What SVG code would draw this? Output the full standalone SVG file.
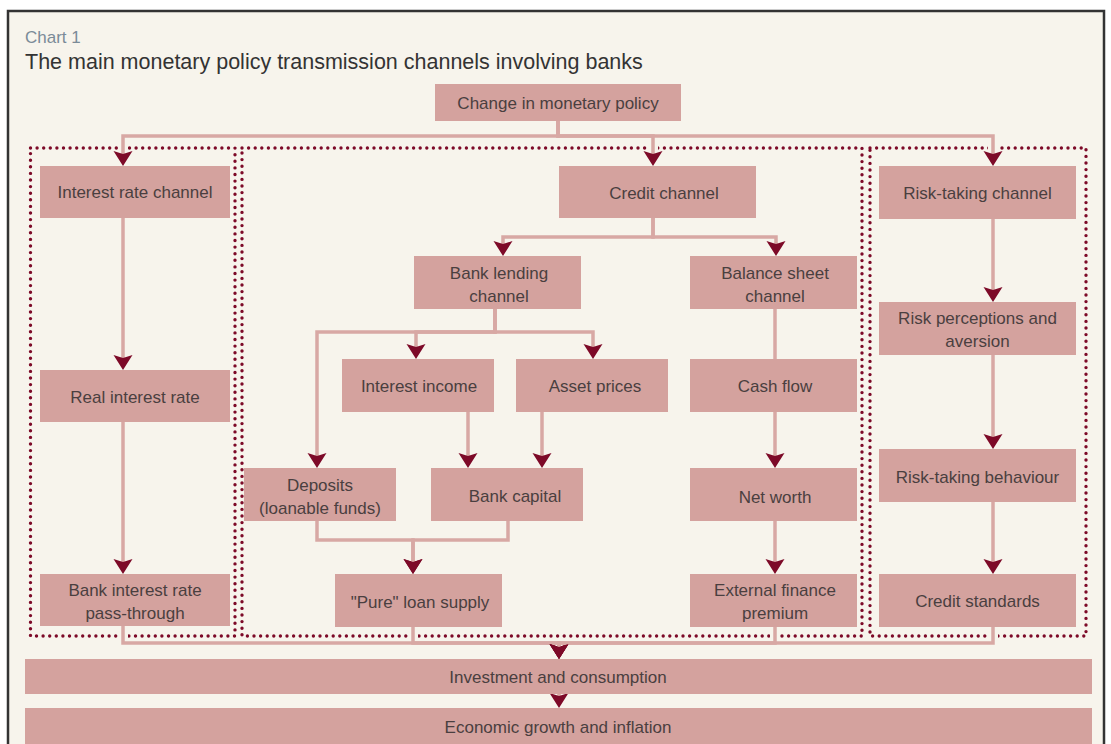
<svg xmlns="http://www.w3.org/2000/svg" width="1111" height="744" viewBox="0 0 1111 744">
<style>
.bg{fill:#f7f4ec}
.box{fill:#d4a29e}
.t{font-family:"Liberation Sans",Arial,sans-serif;font-size:17px;fill:#4a3f40;text-anchor:middle}
.dot{fill:none;stroke:#7d0a28;stroke-width:3.4;stroke-linecap:round;stroke-dasharray:0 6.6}
.halo{fill:none;stroke:#f7f4ec;stroke-width:10}
.ln{fill:none;stroke:#d8a8a4;stroke-width:3.5}
.arr{marker-end:url(#ah)}
</style>
<defs>
<marker id="ah" markerUnits="userSpaceOnUse" viewBox="-13 -11 18 22" refX="0" refY="0" markerWidth="18" markerHeight="22" orient="auto">
<path d="M4,0 L-11,-9.5 L-8,0 L-11,9.5 Z" fill="#7d0a28"/>
</marker>
</defs>
<rect x="0" y="0" width="1111" height="744" fill="#ffffff"/>
<rect x="8" y="11" width="1096" height="740" class="bg" stroke="#333333" stroke-width="2.5"/>
<text x="25" y="43" style="font-family:'Liberation Sans',Arial,sans-serif;font-size:17px;fill:#7b8b98">Chart 1</text>
<text x="25" y="69" style="font-family:'Liberation Sans',Arial,sans-serif;font-size:21.5px;fill:#333333">The main monetary policy transmission channels involving banks</text>

<g id="groups">
<rect x="30.5" y="148" width="204.5" height="488" class="dot"/>
<rect x="242" y="148" width="620" height="488" class="dot"/>
<rect x="870" y="148" width="216" height="488" class="dot"/>
</g>

<g id="connectors">
<g class="halo">
<path d="M123,136 V162"/><path d="M653,136 V162"/><path d="M993,136 V162"/>
<path d="M123,626 V643"/><path d="M413,627 V643"/><path d="M775,627 V643"/><path d="M993,627 V643"/>
</g>
<g class="ln">
<path class="arr" d="M558,120 V136 H123 V162"/>
<path class="arr" d="M558,120 V136 H653 V162"/>
<path class="arr" d="M558,120 V136 H993 V162"/>
<path class="arr" d="M123,218 V366"/>
<path class="arr" d="M123,422 V570"/>
<path class="arr" d="M653,218 V237 H503 V252"/>
<path class="arr" d="M653,218 V237 H776 V252"/>
<path class="arr" d="M495,309 V332 H416 V355"/>
<path class="arr" d="M495,309 V332 H593 V355"/>
<path class="arr" d="M495,309 V332 H317 V464"/>
<path class="arr" d="M468,412 V464"/>
<path class="arr" d="M542,412 V464"/>
<path class="arr" d="M317,521 V540 H413 V570"/>
<path class="arr" d="M508,521 V540 H413 V570"/>
<path d="M775,309 V359"/>
<path class="arr" d="M775,412 V464"/>
<path class="arr" d="M775,521 V570"/>
<path class="arr" d="M993,219 V298"/>
<path class="arr" d="M993,355 V445"/>
<path class="arr" d="M993,502 V570"/>
<path class="arr" d="M123,626 V643 H559 V655"/>
<path class="arr" d="M413,627 V643 H559 V655"/>
<path class="arr" d="M775,627 V643 H559 V655"/>
<path class="arr" d="M993,627 V643 H559 V655"/>
<path class="arr" d="M559,693 V704"/>
</g>
</g>

<g id="n-change"><rect x="435" y="84" width="246" height="37" class="box"/><text x="558" y="109" class="t">Change in monetary policy</text></g>
<g id="n-irc"><rect x="40" y="166" width="190" height="52" class="box"/><text x="135" y="198" class="t">Interest rate channel</text></g>
<g id="n-credit"><rect x="559" y="166" width="197" height="52" class="box"/><text x="664" y="199" class="t">Credit channel</text></g>
<g id="n-risk"><rect x="879" y="166" width="197" height="53" class="box"/><text x="977.5" y="199" class="t">Risk-taking channel</text></g>
<g id="n-bank-lending"><rect x="414" y="256" width="167" height="53" class="box"/><text x="499" y="279" class="t">Bank lending</text><text x="499" y="302" class="t">channel</text></g>
<g id="n-balance"><rect x="690" y="256" width="167" height="53" class="box"/><text x="775" y="279" class="t">Balance sheet</text><text x="775" y="302" class="t">channel</text></g>
<g id="n-riskperc"><rect x="879" y="302" width="197" height="53" class="box"/><text x="977.5" y="324" class="t">Risk perceptions and</text><text x="977.5" y="347" class="t">aversion</text></g>
<g id="n-real"><rect x="40" y="370" width="190" height="52" class="box"/><text x="135" y="403" class="t">Real interest rate</text></g>
<g id="n-income"><rect x="342" y="359" width="152" height="53" class="box"/><text x="419" y="392" class="t">Interest income</text></g>
<g id="n-asset"><rect x="516" y="359" width="152" height="53" class="box"/><text x="595" y="392" class="t">Asset prices</text></g>
<g id="n-cash"><rect x="690" y="359" width="167" height="53" class="box"/><text x="775" y="392" class="t">Cash flow</text></g>
<g id="n-behav"><rect x="879" y="449" width="197" height="53" class="box"/><text x="977.5" y="483" class="t">Risk-taking behaviour</text></g>
<g id="n-deposits"><rect x="244" y="468" width="152" height="53" class="box"/><text x="320" y="491" class="t">Deposits</text><text x="320" y="514" class="t">(loanable funds)</text></g>
<g id="n-capital"><rect x="431" y="468" width="152" height="53" class="box"/><text x="515" y="502" class="t">Bank capital</text></g>
<g id="n-networth"><rect x="690" y="468" width="167" height="53" class="box"/><text x="775" y="503" class="t">Net worth</text></g>
<g id="n-passthrough"><rect x="40" y="574" width="190" height="52" class="box"/><text x="135" y="596" class="t">Bank interest rate</text><text x="135" y="619" class="t">pass-through</text></g>
<g id="n-pure"><rect x="335" y="574" width="167" height="53" class="box"/><text x="420" y="608" class="t">"Pure" loan supply</text></g>
<g id="n-efp"><rect x="690" y="574" width="167" height="53" class="box"/><text x="775" y="596" class="t">External finance</text><text x="775" y="619" class="t">premium</text></g>
<g id="n-standards"><rect x="879" y="574" width="197" height="53" class="box"/><text x="977.5" y="607" class="t">Credit standards</text></g>
<g id="n-invest"><rect x="25" y="659" width="1067" height="35" class="box"/><text x="558" y="683" class="t">Investment and consumption</text></g>
<g id="n-growth"><rect x="25" y="708" width="1067" height="40" class="box"/><text x="558" y="733" class="t">Economic growth and inflation</text></g>
</svg>
